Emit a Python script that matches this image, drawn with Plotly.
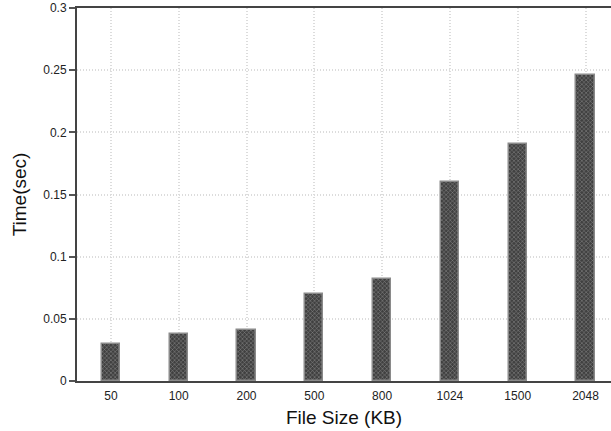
import plotly.graph_objects as go

categories = ["50", "100", "200", "500", "800", "1024", "1500", "2048"]
times = [0.030, 0.038, 0.041, 0.070, 0.082, 0.160, 0.191, 0.246]
y_ticks = [0, 0.05, 0.1, 0.15, 0.2, 0.25, 0.3]
y_tick_labels = ["0", "0.05", "0.1", "0.15", "0.2", "0.25", "0.3"]

fig = go.Figure()
fig.add_trace(go.Bar(
    x=categories, y=times, width=0.27,
    marker=dict(
        color="#3c3c3c",
        line=dict(color="#8a8a8a", width=1.5),
        pattern=dict(shape="x", fgcolor="#d8d8d8", bgcolor="#404040", size=3, solidity=0.3),
    ),
))

fig.update_layout(
    width=611, height=431,
    margin=dict(l=77, r=0, t=8, b=50, autoexpand=False),
    plot_bgcolor="white", paper_bgcolor="white",
    font=dict(family="Liberation Sans, Arial", color="#222"),
    showlegend=False,
    bargap=0,
)
fig.update_xaxes(
    type="category", range=[-0.5, 7.376], automargin=False,
    showgrid=True, gridcolor="#dcdcdc", griddash="1px,2px", gridwidth=1.5,
    showline=True, linecolor="#444", linewidth=2, mirror=True,
    ticks="", tickfont=dict(size=12), ticklabelstandoff=3,
    title=dict(text="File Size (KB)", font=dict(size=19, color="#111"), standoff=8),
)
fig.update_yaxes(
    range=[0, 0.3], tickvals=y_ticks, ticktext=y_tick_labels, automargin=False,
    showgrid=True, gridcolor="#dcdcdc", griddash="1px,2px", gridwidth=1.5,
    showline=True, linecolor="#444", linewidth=2, mirror=True,
    ticks="outside", ticklen=6, tickcolor="#555", tickwidth=2,
    tickfont=dict(size=12), zeroline=False, ticklabeloverflow="allow",
    title=dict(text="Time(sec)", font=dict(size=19, color="#111"), standoff=12),
)

fig.write_html(
    "out.html",
    config={"displayModeBar": False},
    post_script="document.body.style.margin='0';",
)
